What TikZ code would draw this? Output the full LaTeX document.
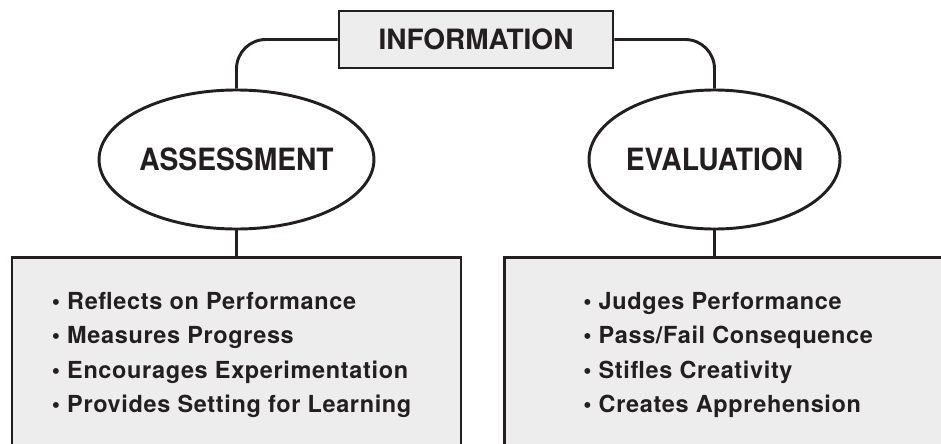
\documentclass[tikz,border=0pt]{standalone}
\usepackage{fontspec}
\setmainfont{TeX Gyre Heros}
\newfontfamily\listfont{TeX Gyre Heros}[LetterSpace=2.8]
\newfontfamily\ovalfont{TeX Gyre Heros}[FakeStretch=0.92]
\usetikzlibrary{positioning,shapes.geometric}
\definecolor{ink}{HTML}{231F20}
\definecolor{panel}{HTML}{EDEDED}

\tikzset{
  link/.style={draw=ink,line width=2.2pt,rounded corners=22pt},
  infobox/.style={draw=ink,fill=panel,line width=2.2pt,minimum width=205.5pt,
    minimum height=42.75pt,inner sep=0pt,text=ink,
    font=\bfseries\fontsize{21}{24}\selectfont},
  oval/.style={ellipse,draw=ink,fill=white,line width=2.2pt,minimum width=183.75pt,
    minimum height=104.25pt,inner sep=0pt,text=ink,
    font=\ovalfont\bfseries\fontsize{23}{26}\selectfont},
  listbox/.style={draw=ink,fill=panel,line width=2.2pt,minimum height=165pt,inner sep=0pt},
  listtext/.style={align=left,inner sep=0pt,text=ink,
    font=\listfont\bfseries\fontsize{17.6}{25.9}\selectfont}
}

\begin{document}
\begin{tikzpicture}[x=0.75pt,y=-0.75pt]
  \useasboundingbox (0,0) rectangle (941,443);
  \clip (0,0) rectangle (941,443);

  \node[infobox] (info) at (476,39.5) {INFORMATION};
  \node[oval] (assess) at (236.5,159.5) {ASSESSMENT};
  \node[oval] (evalu) at (714.5,159.5) {EVALUATION};

  \node[listbox,minimum width=336.75pt,anchor=north] (abox) at (236.5,256) {};
  \node[listbox,minimum width=345pt,anchor=north west] (ebox) at (503,256) {};

  \draw[link] (info.west) -| (assess.north);
  \draw[link] (info.east) -| (evalu.north);
  \draw[link] (assess.south) -- (abox.north);
  \draw[link] (evalu.south) -- (evalu.south |- ebox.north);

  \node[listtext,below right=27pt and 30.75pt of abox.north west] (alist)
    {• Reflects on Performance\\ • Measures Progress\\
     • Encourages Experimentation\\ • Provides Setting for Learning};
  \node[listtext,below right=27pt and 60pt of ebox.north west] (elist)
    {• Judges Performance\\ • Pass/Fail Consequence\\
     • Stifles Creativity\\ • Creates Apprehension};
\end{tikzpicture}
\end{document}
